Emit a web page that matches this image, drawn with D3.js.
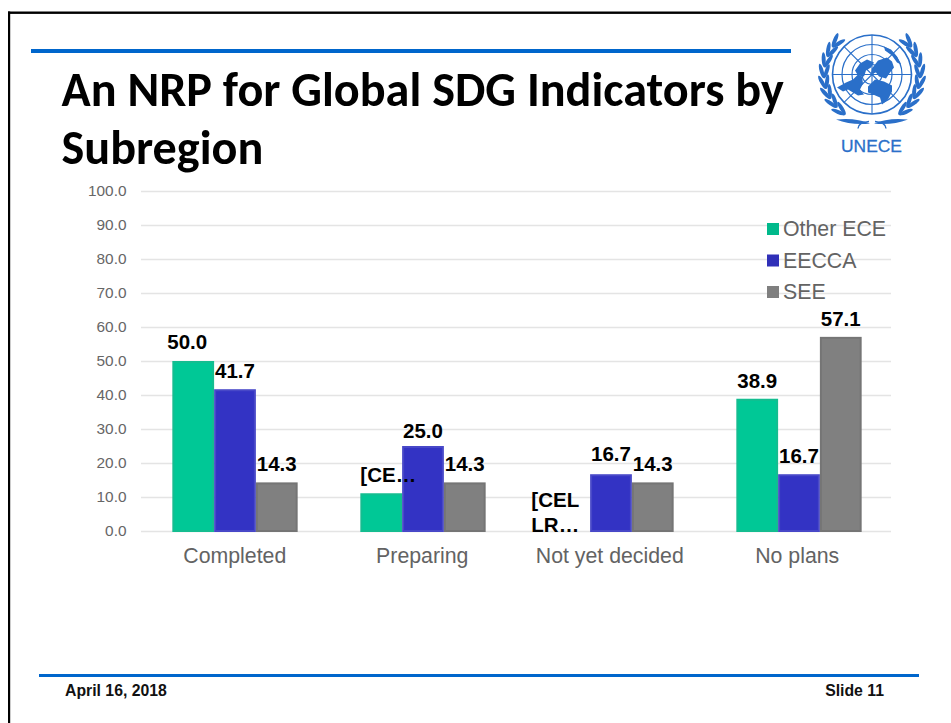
<!DOCTYPE html>
<html><head><meta charset="utf-8">
<script src="https://cdnjs.cloudflare.com/ajax/libs/d3/7.8.5/d3.min.js"></script>
<style>html,body{margin:0;padding:0;background:#fff;overflow:hidden}svg{display:block}text{font-family:"Liberation Sans",Arial,sans-serif}</style>
</head><body><svg id="c" width="951" height="723"></svg>
<script>
const titleLines = ["An NRP for Global SDG Indicators by","Subregion"];
const categories = ["Completed","Preparing","Not yet decided","No plans"];
const seriesNames = ["Other ECE","EECCA","SEE"];
const otherECE = [50.0,11.1,0,38.9];
const eecca = [41.7,25.0,16.7,16.7];
const see = [14.3,14.3,14.3,57.1];
const yTicks = [0,10,20,30,40,50,60,70,80,90,100];
const fills = ["#00c896","#3333c4","#808080"];
const strokes = ["#14bd90","#4848c8","#757575"];
const legendFills = ["#00b98b","#3030b8","#7f7f7f"];
const footerLeft = "April 16, 2018";
const footerRight = "Slide 11";

const svg = d3.select("#c");
const blue = "#0066cc";

// slide furniture
svg.append("rect").attr("x",8).attr("y",11.5).attr("width",943).attr("height",2.4).attr("fill","#000");
svg.append("rect").attr("x",8).attr("y",11.5).attr("width",2.2).attr("height",712).attr("fill","#000");
svg.append("rect").attr("x",31).attr("y",49).attr("width",760).attr("height",4).attr("fill",blue);
svg.append("rect").attr("x",39).attr("y",674).attr("width",880).attr("height",3).attr("fill",blue);
titleLines.forEach((t,i)=>svg.append("text").attr("x",61.5).attr("y",106+i*58)
  .attr("font-size",48.2).attr("font-weight",700).attr("fill","#000")
  .style("font-family","Carlito,Lato,sans-serif").text(t));
svg.append("text").attr("x",65).attr("y",696).attr("font-size",15.8).attr("font-weight",700).attr("fill","#111").text(footerLeft);
svg.append("text").attr("x",884).attr("y",696).attr("text-anchor","end").attr("font-size",15.8).attr("font-weight",700).attr("fill","#111").text(footerRight);

// scales
const y = d3.scaleLinear().domain([0,100]).range([531,191]);
const x0 = d3.scaleBand().domain(categories).range([141,893]).paddingInner(1/3).paddingOuter(1/6);
const x1 = d3.scaleBand().domain(seriesNames).range([0,x0.bandwidth()]);
const xLabels = d3.scaleBand().domain(categories).range([141,891]);

// gridlines + y axis
const yAxis = d3.axisLeft(y).tickValues(yTicks).tickSize(-750).tickPadding(14.5).tickFormat(d3.format(".1f"));
const gy = svg.append("g").attr("transform","translate(141,0)").call(yAxis);
gy.select(".domain").remove();
gy.selectAll("line").attr("stroke","#e4e4e4").attr("stroke-width",1.5);
gy.selectAll("text").attr("font-size",15.4).attr("fill","#666").attr("font-family",null);

// x axis labels
const xAxis = d3.axisBottom(xLabels).tickSize(0).tickPadding(17);
const gx = svg.append("g").attr("transform","translate(0,531)").call(xAxis);
gx.select(".domain").remove();
gx.selectAll("text").attr("font-size",21.3).attr("fill","#636363").attr("font-family",null);

// bars
const seriesValues = [otherECE,eecca,see];
seriesNames.forEach((name,s)=>{
  const g = svg.append("g");
  g.selectAll("rect").data(categories.map((c,i)=>({c,v:seriesValues[s][i]})).filter(d=>d.v>0)).join("rect")
    .attr("x",d=>x0(d.c)+x1(name)+1)
    .attr("y",d=>y(d.v)+1)
    .attr("width",x1.bandwidth()-2)
    .attr("height",d=>y(0)-y(d.v)-1)
    .attr("fill",fills[s]).attr("stroke",strokes[s]).attr("stroke-width",2);
});

// data labels
const labelG = svg.append("g").attr("font-size",20.5).attr("font-weight",700).attr("fill","#000");
seriesNames.forEach((name,s)=>{
  categories.forEach((c,i)=>{
    const v = seriesValues[s][i];
    if (s===0 && i===1) {
      labelG.append("text").attr("x",x0(c)+x1(name)).attr("y",y(v)-11).text("[CE…");
    } else if (s===0 && i===2) {
      labelG.append("text").attr("x",x0(c)+x1(name)-17).attr("y",y(0)-24).text("[CEL");
      labelG.append("text").attr("x",x0(c)+x1(name)-17).attr("y",y(0)+1).text("LR…");
    } else {
      const dy = (s===1 && i===2) ? 13 : (s===1 && i===1) ? 8 : (s===0 && i===0) ? 12 : 11;
      const dx = (s===0 && i===0) ? -6 : 0;
      labelG.append("text").attr("x",x0(c)+x1(name)+x1.bandwidth()/2+dx).attr("y",y(v)-dy)
        .attr("text-anchor","middle").text(d3.format(".1f")(v));
    }
  });
});

// legend
const legendY = d3.scalePoint().domain(seriesNames).range([229,292]);
seriesNames.forEach((name,s)=>{
  svg.append("rect").attr("x",767).attr("y",legendY(name)-6).attr("width",12).attr("height",12).attr("fill",legendFills[s]);
  svg.append("text").attr("x",783).attr("y",legendY(name)+7).attr("font-size",21.3).attr("fill","#636363").text(name);
});

// UNECE emblem
const logoBlue = "#2a6fc9";
const logo = svg.append("g").attr("transform","translate(872,74.5)");
[39.5,30,20,10].forEach(r=>logo.append("circle").attr("r",r).attr("fill","none").attr("stroke",logoBlue).attr("stroke-width",r===39.5?1.6:1.2));
d3.range(8).forEach(k=>{
  const a = k*Math.PI/4;
  logo.append("line").attr("x1",0).attr("y1",0).attr("x2",39.5*Math.cos(a)).attr("y2",39.5*Math.sin(a))
    .attr("stroke",logoBlue).attr("stroke-width",1.1);
});
[
 "M-35,13 L-26,8 L-19,5 L-14,0 L-10,2 L-9,9 L-12,15 L-8,20 L-14,21 L-19,18 L-24,15 L-29,17 Z",
 "M-17,-4 L-12,-11 L-5,-15 L2,-12 L-1,-7 L-6,-4 L-8,2 L-14,1 Z",
 "M0,-6 L6,-14 L15,-17 L20,-13 L22,-7 L18,-2 L14,4 L7,2 L4,-2 L-1,-1 Z",
 "M-4,12 L3,5 L12,7 L20,11 L20,17 L16,25 L10,30 L8,23 L1,20 L-4,18 Z",
 "M12,-28 L19,-25 L25,-18 L29,-10 L25,-12 L20,-19 L13,-24 Z"
].forEach(d=>logo.append("path").attr("d",d).attr("fill",logoBlue));

// wreath: leaves running up each side along the arc, mirrored
[-1,1].forEach(side=>{
  const w = logo.append("g").attr("transform",`scale(${side},1)`);
  d3.range(8).forEach(k=>{
    const deg = 42+k*13, a = deg*Math.PI/180;  // angle measured from straight down
    [[45.5,-16],[50.5,20]].forEach(([r,tilt])=>{
      const px = r*Math.sin(a), py = r*Math.cos(a);
      w.append("ellipse").attr("rx",7.5).attr("ry",2)
        .attr("transform",`translate(${px},${py}) rotate(${-deg+tilt})`)
        .attr("fill",logoBlue);
    });
  });
  w.append("path").attr("d","M2,49 Q16,43 36,45 Q20,51 2,49 Z").attr("fill",logoBlue);
  w.append("path").attr("d","M3,47 Q14,48 14,54").attr("fill","none").attr("stroke",logoBlue).attr("stroke-width",1.4);
});
svg.append("text").attr("x",871.5).attr("y",152).attr("text-anchor","middle").attr("font-size",17.4).attr("fill",logoBlue).attr("stroke",logoBlue).attr("stroke-width",0.3).text("UNECE");
</script></body></html>
